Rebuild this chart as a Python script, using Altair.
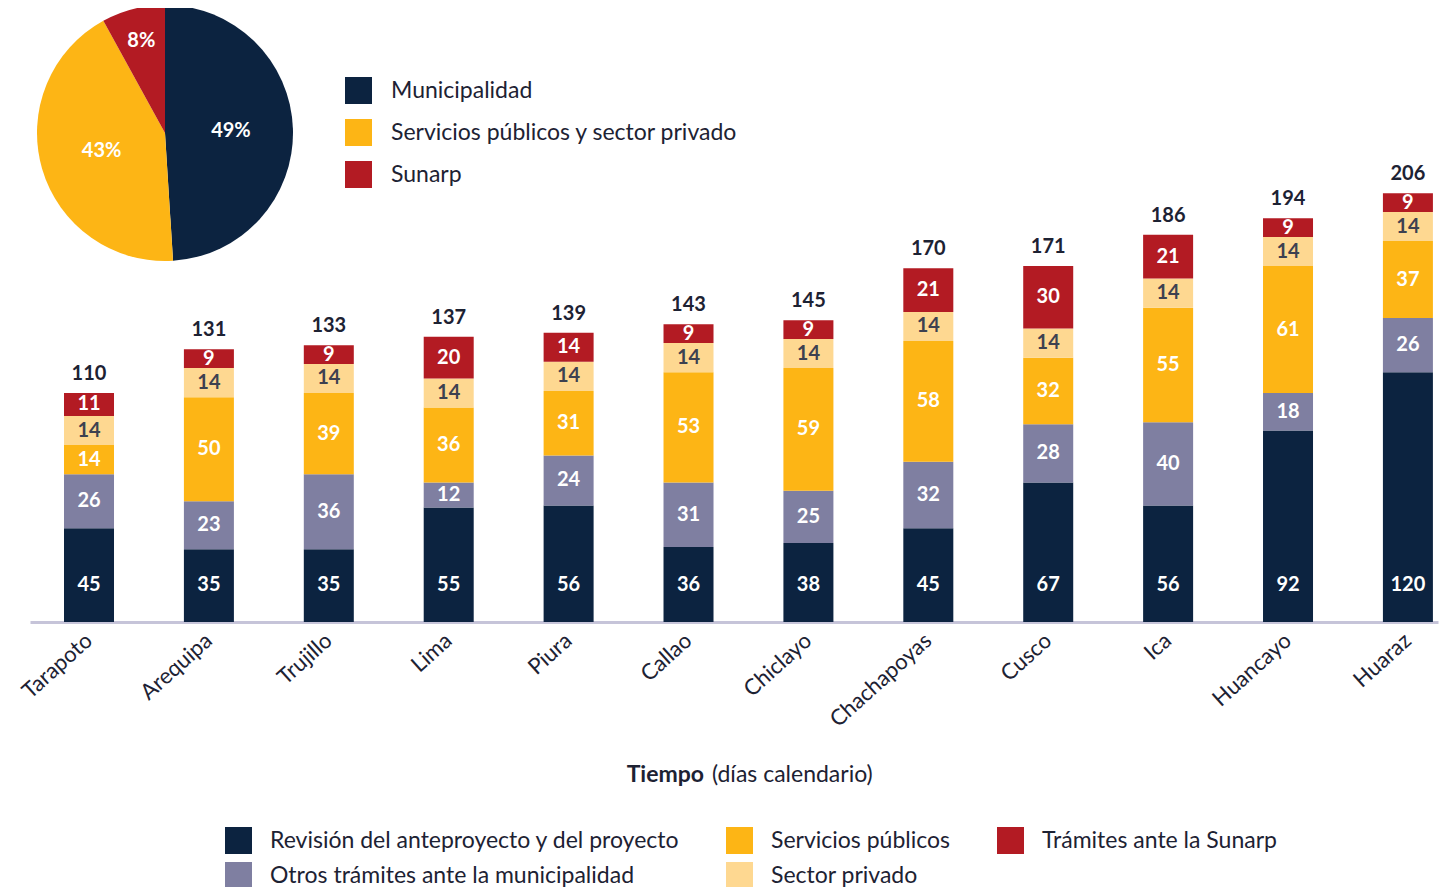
import altair as alt
import pandas as pd

FONT = "Lato"
TXT = "#1d2233"

cities = ["Tarapoto", "Arequipa", "Trujillo", "Lima", "Piura", "Callao",
          "Chiclayo", "Chachapoyas", "Cusco", "Ica", "Huancayo", "Huaraz"]
revision = [45, 35, 35, 55, 56, 36, 38, 45, 67, 56, 92, 120]
otros = [26, 23, 36, 12, 24, 31, 25, 32, 28, 40, 18, 26]
servicios = [14, 50, 39, 36, 31, 53, 59, 58, 32, 55, 61, 37]
privado = [14, 14, 14, 14, 14, 14, 14, 14, 14, 14, 14, 14]
sunarp = [11, 9, 9, 20, 14, 9, 9, 21, 30, 21, 9, 9]
totals = [110, 131, 133, 137, 139, 143, 145, 170, 171, 186, 194, 206]

seg_names = ["Revisión del anteproyecto y del proyecto",
             "Otros trámites ante la municipalidad",
             "Servicios públicos",
             "Sector privado",
             "Trámites ante la Sunarp"]
seg_colors = ["#0c2340", "#7f7fa1", "#fdb515", "#fed891", "#b31b23"]

pie_labels = ["Municipalidad", "Servicios públicos y sector privado", "Sunarp"]
pie_values = [49, 43, 8]
pie_text = ["49%", "43%", "8%"]
pie_colors = ["#0c2340", "#fdb515", "#b31b23"]

rows = []
series = [revision, otros, servicios, privado, sunarp]
for i, c in enumerate(cities):
    for k, name in enumerate(seg_names):
        rows.append({"city": c, "seg": name, "value": series[k][i], "order": k})
df = pd.DataFrame(rows)
df_tot = pd.DataFrame({"city": cities, "total": totals})
df_pie = pd.DataFrame({"pk": pie_labels, "value": pie_values, "txt": pie_text,
                       "order": [0, 1, 2]})

W, H = 1408, 614

xscale = alt.Scale(domain=cities, paddingInner=0.583, paddingOuter=0.163, align=0.87)
yscale = alt.Scale(domain=[0, 295], nice=False, zero=True)

xenc = alt.X("city:N", sort=cities, scale=xscale, title=None,
             axis=alt.Axis(labelAngle=-42, labelAlign="right", labelBaseline="middle",
                           labelPadding=15, labelFontSize=22, labelFont=FONT,
                           labelColor=TXT, ticks=False, domainColor="#c6c4d9",
                           domainWidth=3, grid=False))

bars = alt.Chart(df).mark_bar(size=50).encode(
    x=xenc,
    y=alt.Y("value:Q", stack="zero", scale=yscale, axis=None),
    color=alt.Color("seg:N", scale=alt.Scale(domain=seg_names, range=seg_colors),
                    legend=alt.Legend(orient="none", legendX=195, legendY=819,
                                      columns=3, title=None, symbolType="square",
                                      symbolSize=729, symbolStrokeWidth=0,
                                      labelFontSize=23, labelFont=FONT, labelColor=TXT,
                                      labelOffset=18, rowPadding=8, columnPadding=46,
                                      padding=0, labelLimit=0)),
    order=alt.Order("order:Q", sort="ascending"),
)

vals = alt.Chart(df).transform_stack(
    stack="value", groupby=["city"], sort=[alt.SortField("order", "ascending")],
    as_=["v0", "v1"]
).transform_calculate(
    mid="datum.order == 0 ? 18 : (datum.v0 + datum.v1) / 2",
    lc="datum.order == 3 ? '#3d4150' : '#ffffff'",
).mark_text(font=FONT, fontWeight="bold", fontSize=20, baseline="middle").encode(
    x=alt.X("city:N", sort=cities, scale=xscale),
    y=alt.Y("mid:Q", scale=yscale),
    text=alt.Text("value:Q"),
    color=alt.Color("lc:N", scale=None, legend=None),
)

tots = alt.Chart(df_tot).mark_text(font=FONT, fontWeight="bold", fontSize=20,
                                   baseline="alphabetic", dy=-13, color=TXT).encode(
    x=alt.X("city:N", sort=cities, scale=xscale),
    y=alt.Y("total:Q", scale=yscale),
    text=alt.Text("total:Q"),
)

pie = alt.Chart(df_pie).mark_arc(radius=128).encode(
    theta=alt.Theta("value:Q", stack=True),
    order=alt.Order("order:Q", sort="ascending"),
    color=alt.Color("pk:N", scale=alt.Scale(domain=pie_labels, range=pie_colors),
                    legend=alt.Legend(orient="none", legendX=315, legendY=69,
                                      title=None, symbolType="square",
                                      symbolSize=729, symbolStrokeWidth=0,
                                      labelFontSize=23, labelFont=FONT, labelColor=TXT,
                                      labelOffset=19, rowPadding=15, padding=0,
                                      labelLimit=0)),
    x=alt.value(135),
    y=alt.value(125),
)

pie_txt_in = alt.Chart(df_pie).transform_calculate(
    t="datum.order == 2 ? '' : datum.txt"
).mark_text(font=FONT, fontWeight="bold", fontSize=20, color="white",
            baseline="middle", radius=66).encode(
    theta=alt.Theta("value:Q", stack=True),
    order=alt.Order("order:Q", sort="ascending"),
    text="t:N",
    x=alt.value(135),
    y=alt.value(125),
)
pie_txt_out = alt.Chart(df_pie).transform_calculate(
    t="datum.order == 2 ? datum.txt : ''"
).mark_text(font=FONT, fontWeight="bold", fontSize=20, color="white",
            baseline="middle", radius=95).encode(
    theta=alt.Theta("value:Q", stack=True),
    order=alt.Order("order:Q", sort="ascending"),
    text="t:N",
    x=alt.value(135),
    y=alt.value(125),
)

t1 = alt.Chart(pd.DataFrame({"t": ["Tiempo"]})).mark_text(
    font=FONT, fontWeight="bold", fontSize=23, align="right", baseline="middle",
    color=TXT).encode(text="t:N", x=alt.value(674), y=alt.value(767))
t2 = alt.Chart(pd.DataFrame({"t": ["(días calendario)"]})).mark_text(
    font=FONT, fontSize=23, align="left", baseline="middle",
    color=TXT).encode(text="t:N", x=alt.value(682), y=alt.value(767))

chart = alt.layer(bars, vals, tots, pie, pie_txt_in, pie_txt_out, t1, t2).resolve_scale(
    color="independent"
).properties(
    width=W, height=H,
    background="white",
    autosize=alt.AutoSizeParams(type="none"),
    padding={"left": 22, "top": 0, "right": 1, "bottom": 265},
).configure_view(strokeWidth=0, stroke=None)

chart.save("out.html", embed_options={"renderer": "svg", "actions": False})
